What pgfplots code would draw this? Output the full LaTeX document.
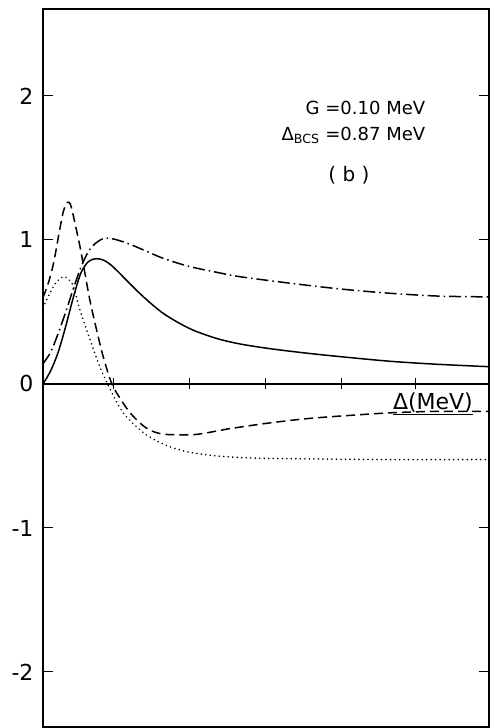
\documentclass[border=0pt]{standalone}
\usepackage{fontspec}
\setmainfont{DejaVu Sans}
\usepackage{pgfplots}
\pgfplotsset{compat=1.18}

\begin{document}
\begin{tikzpicture}
% frame, y ticks on both sides
\begin{axis}[
  name=main,
  scale only axis, width=446pt, height=718pt,
  xmin=0, xmax=5.89, ymin=-2.382, ymax=2.604,
  xtick=\empty,
  ytick={-2,-1,0,1,2},
  yticklabels={-2,-1,0,1,2},
  ytick pos=both, yticklabel pos=left,
  tick align=inside, major tick length=10pt,
  tick style={line width=1pt, black},
  axis line style={line width=1.3pt},
  yticklabel style={font=\fontsize{22}{22}\selectfont, xshift=-6pt},
  /pgf/number format/assume math mode=true,
]
% solid
\addplot[line width=1.5pt, smooth] coordinates {
 (0,0) (0.1,0.09) (0.2,0.22) (0.3,0.40) (0.4,0.60) (0.5,0.77) (0.6,0.85)
 (0.7,0.87) (0.8,0.86) (0.9,0.825) (1.0,0.775) (1.15,0.695) (1.3,0.618)
 (1.45,0.548) (1.6,0.486) (1.8,0.422) (2.0,0.37) (2.3,0.315) (2.6,0.278)
 (3.0,0.245) (3.5,0.213) (4.0,0.186) (4.6,0.157) (5.2,0.137) (5.89,0.12)};
% dash-dotted
\addplot[line width=1.5pt, smooth, dash pattern=on 12pt off 4pt on 1.5pt off 4pt] coordinates {
 (0,0.14) (0.1,0.22) (0.2,0.35) (0.3,0.50) (0.4,0.66) (0.5,0.81) (0.6,0.92)
 (0.7,0.98) (0.8,1.01) (0.9,1.01) (1.0,0.997) (1.15,0.97) (1.33,0.93)
 (1.6,0.87) (1.94,0.815) (2.3,0.775) (2.6,0.745) (3.26,0.70) (3.92,0.66)
 (4.58,0.63) (5.24,0.61) (5.89,0.605)};
% dashed
\addplot[line width=1.5pt, smooth, dash pattern=on 9pt off 5pt] coordinates {
 (0,0.60) (0.07,0.70) (0.14,0.84) (0.22,1.07) (0.27,1.20) (0.32,1.26)
 (0.36,1.25) (0.40,1.17) (0.45,1.05) (0.49,0.95) (0.55,0.78) (0.62,0.58)
 (0.71,0.37) (0.8,0.18) (0.91,0.0) (1.03,-0.11) (1.15,-0.2) (1.3,-0.28)
 (1.41,-0.32) (1.55,-0.345) (1.7,-0.352) (2.03,-0.35) (2.47,-0.31)
 (3.0,-0.27) (3.5,-0.24) (4.0,-0.22) (4.6,-0.20) (5.2,-0.19) (5.89,-0.19)};
% dotted
\addplot[line width=1.8pt, smooth, line cap=round, dash pattern=on 0.01pt off 4.5pt] coordinates {
 (0,0.53) (0.09,0.63) (0.18,0.71) (0.27,0.745) (0.33,0.73) (0.40,0.68)
 (0.49,0.51) (0.62,0.31) (0.75,0.12) (0.89,-0.04) (1.06,-0.2) (1.33,-0.34)
 (1.6,-0.42) (1.9,-0.47) (2.3,-0.5) (2.8,-0.515) (3.5,-0.52) (4.5,-0.525)
 (5.89,-0.525)};

\node[anchor=base east, inner sep=0pt, font=\fontsize{18}{18}\selectfont]
  at (axis cs:5.05,1.868) {G =0.10 MeV};
\node[anchor=base east, inner sep=0pt, font=\fontsize{18}{18}\selectfont]
  at (axis cs:5.05,1.694) {Δ\textsubscript{BCS} =0.87 MeV};
\node[inner sep=0pt, font=\fontsize{20}{20}\selectfont]
  at (axis cs:4.04,1.451) {( b )};
\node[anchor=base west, inner sep=0pt, font=\fontsize{22}{22}\selectfont]
  at (axis cs:4.62,-0.18) {\underline{Δ(MeV)}};
\end{axis}

% the Δ axis through zero, ticks crossing it
\begin{axis}[
  scale only axis, width=446pt, height=718pt,
  xmin=0, xmax=5.89, ymin=-2.382, ymax=2.604,
  axis x line=middle, axis y line=none,
  axis line style={-, line width=1.3pt},
  xtick={0.93,1.93,2.94,3.94,4.92}, xticklabels={},
  tick align=center, major tick length=11pt,
  tick style={line width=1.2pt, black},
]
\end{axis}

\path ([xshift=-43pt, yshift=-1pt]main.south west)
  rectangle ([xshift=2pt, yshift=9pt]main.north east);
\end{tikzpicture}
\end{document}
